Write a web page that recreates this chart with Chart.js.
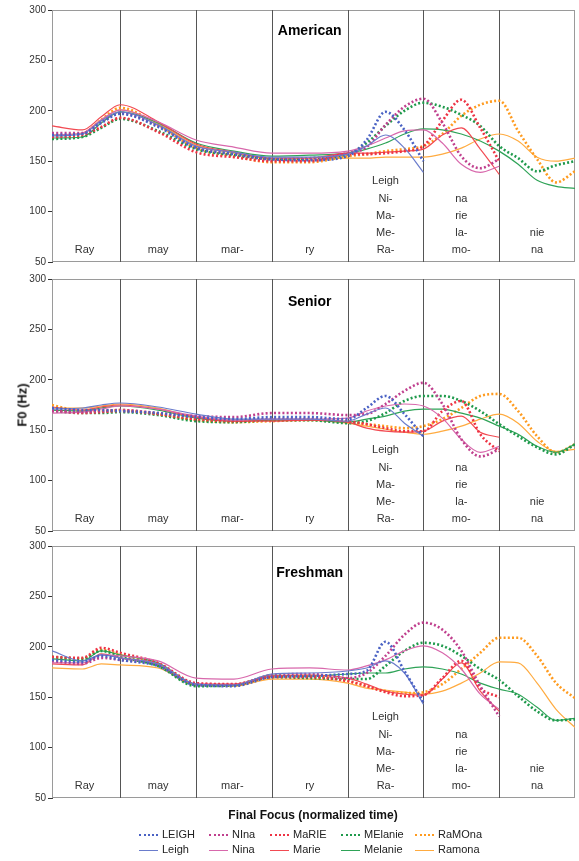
<!DOCTYPE html>
<html>
<head>
<meta charset="utf-8">
<script src="https://cdn.jsdelivr.net/npm/chart.js@4"></script>
<style>
  body { margin: 0; background: #fff; }
  #wrap { position: relative; width: 579px; height: 861px; font-family: "Liberation Sans", Arial, sans-serif; }
  canvas { position: absolute; left: 0; }
  #yTitle { position: absolute; left: 22px; top: 405px; transform: translate(-50%, -50%) rotate(-90deg); font-weight: bold; font-size: 13px; white-space: nowrap; color: #111; }
  #xTitle { position: absolute; left: 313px; top: 815px; transform: translate(-50%, -50%); font-weight: bold; font-size: 12px; white-space: nowrap; color: #111; }
  .lg { position: absolute; font-size: 11px; color: #222; white-space: nowrap; transform: translateY(-50%); }
  .lg i { display: inline-block; width: 19px; vertical-align: middle; margin-right: 4px; }
</style>
</head>
<body>
<div id="wrap">
  <canvas id="american" width="579" height="270" style="top:0px"></canvas>
  <canvas id="senior" width="579" height="270" style="top:269px"></canvas>
  <canvas id="freshman" width="579" height="270" style="top:536px"></canvas>
  <div id="yTitle">F0 (Hz)</div>
  <div id="xTitle">Final Focus (normalized time)</div>
</div>
<script>
// normalized time samples (shared by all series)
const xs = [0.1, 0.5, 0.75, 1, 1.5, 2, 2.5, 3, 3.5, 4, 4.25, 4.5, 4.75, 5, 5.25, 5.5, 5.75, 6, 6.25, 6.5, 6.75, 7];
const boundaries = [1, 2, 3, 4, 5, 6];

const seriesNames = ['LEIGH', 'Leigh', 'NIna', 'Nina', 'MaRIE', 'Marie', 'MElanie', 'Melanie', 'RaMOna', 'Ramona'];
const seriesColors = ['#4a62c4', '#6a7ccc', '#c0408e', '#d868ac', '#ee3344', '#f24a52', '#1f9a4c', '#2ea357', '#ff9b1f', '#ffab40'];
const seriesDotted = [true, false, true, false, true, false, true, false, true, false];

const n = null;
const americanF0 = [
    [176, 177, 188, 197, 184, 163, 157, 152, 151, 155, 171, 199, 181, 150, n, n, n, n, n, n, n, n],
    [175, 177, 190, 199, 186, 165, 159, 154, 154, 157, 165, 176, 163, 139, n, n, n, n, n, n, n, n],
    [178, 178, 189, 198, 185, 164, 157, 152, 152, 158, 164, 186, 204, 212, 188, 155, 143, 152, n, n, n, n],
    [176, 178, 191, 201, 189, 171, 164, 158, 158, 160, 165, 173, 180, 181, 168, 147, 139, 145, n, n, n, n],
    [174, 176, 184, 193, 179, 159, 154, 150, 150, 157, 157, 158, 160, 165, 190, 211, 183, 150, n, n, n, n],
    [185, 181, 194, 206, 189, 167, 159, 153, 153, 158, 158, 159, 160, 162, 176, 183, 162, 137, n, n, n, n],
    [172, 174, 183, 192, 180, 162, 156, 152, 153, 157, 168, 185, 200, 208, 204, 196, 185, 165, 153, 140, 146, 150],
    [173, 174, 188, 199, 188, 168, 160, 155, 156, 158, 162, 168, 177, 182, 181, 177, 170, 160, 147, 131, 125, 123],
    [175, 177, 191, 203, 186, 163, 155, 149, 149, 155, 157, 160, 162, 165, 177, 195, 206, 210, 180, 152, 129, 140],
    [176, 178, 191, 201, 187, 166, 158, 152, 151, 153, 153, 154, 154, 154, 157, 163, 172, 177, 170, 154, 150, 153]
];
const seniorF0 = [
    [172, 170, 170, 169, 167, 163, 161, 163, 163, 161, 172, 184, 166, 144, n, n, n, n, n, n, n, n],
    [171, 172, 175, 177, 173, 166, 161, 161, 161, 159, 166, 172, 157, 144, n, n, n, n, n, n, n, n],
    [169, 168, 169, 170, 167, 164, 163, 167, 167, 165, 166, 176, 189, 197, 176, 141, 124, 131, n, n, n, n],
    [167, 168, 171, 174, 171, 164, 160, 161, 161, 162, 169, 174, 176, 174, 162, 141, 128, 134, n, n, n, n],
    [170, 167, 168, 169, 166, 161, 159, 161, 161, 159, 156, 152, 149, 149, 169, 179, 146, 129, n, n, n, n],
    [173, 170, 173, 175, 171, 163, 159, 159, 160, 158, 152, 149, 148, 149, 159, 164, 148, 143, n, n, n, n],
    [169, 167, 167, 168, 165, 159, 158, 160, 160, 157, 159, 167, 179, 184, 184, 179, 169, 156, 144, 133, 126, 136],
    [170, 169, 172, 174, 170, 162, 159, 160, 160, 158, 161, 164, 169, 171, 171, 167, 162, 154, 146, 134, 128, 136],
    [175, 169, 169, 170, 166, 160, 158, 159, 160, 158, 156, 154, 152, 154, 161, 172, 184, 186, 169, 144, 128, 136],
    [172, 172, 174, 176, 172, 163, 160, 160, 160, 157, 154, 151, 148, 146, 149, 154, 161, 166, 157, 139, 129, 131]
];
const freshmanF0 = [
    [187, 185, 191, 187, 181, 162, 161, 170, 171, 173, 176, 205, 176, 145, n, n, n, n, n, n, n, n],
    [196, 186, 192, 189, 183, 163, 162, 173, 174, 176, 179, 186, 174, 143, n, n, n, n, n, n, n, n],
    [186, 183, 189, 187, 182, 163, 162, 172, 173, 169, 174, 191, 212, 224, 217, 196, 161, 131, n, n, n, n],
    [184, 184, 192, 191, 186, 169, 168, 178, 179, 177, 181, 187, 196, 201, 194, 178, 153, 138, n, n, n, n],
    [190, 189, 199, 194, 184, 164, 163, 170, 170, 166, 161, 155, 151, 152, 169, 186, 159, 150, n, n, n, n],
    [183, 182, 193, 189, 183, 163, 163, 171, 172, 169, 163, 156, 153, 152, 168, 184, 156, 136, n, n, n, n],
    [190, 188, 196, 190, 181, 161, 162, 170, 169, 168, 168, 181, 196, 204, 201, 191, 178, 167, 151, 136, 127, 128],
    [188, 186, 196, 192, 184, 163, 162, 172, 171, 173, 174, 174, 178, 180, 178, 173, 164, 158, 153, 140, 127, 129],
    [189, 188, 197, 192, 182, 162, 162, 170, 171, 166, 161, 156, 154, 155, 163, 178, 194, 209, 209, 191, 164, 149],
    [179, 178, 183, 182, 179, 162, 161, 168, 168, 164, 159, 157, 155, 153, 156, 164, 174, 185, 184, 164, 138, 120]
];

// syllables written in each segment, top to bottom
const syllableX = [0.53, 1.5, 2.48, 3.5, 4.5, 5.5, 6.5];
const syllableText = [
    ['Ray'], ['may'], ['mar-'], ['ry'],
    ['Leigh', 'Ni-', 'Ma-', 'Me-', 'Ra-'],
    ['na', 'rie', 'la-', 'mo-'],
    ['nie', 'na']
];

// Draw frame, dividers, syllables and panel title
const panelDecor = {
    id: 'panelDecor',
    beforeDatasetsDraw(chart, args, opts) {
        const { ctx, chartArea: a, scales: { x, y } } = chart;
        ctx.save();
        ctx.lineWidth = 1;
        ctx.strokeStyle = '#9a9a9a';
        ctx.strokeRect(a.left + 0.5, a.top + 0.5, a.width - 1, a.height - 1);

        ctx.strokeStyle = '#555';
        boundaries.forEach(b => {
            const px = Math.round(x.getPixelForValue(b)) + 0.5;
            ctx.beginPath();
            ctx.moveTo(px, a.top);
            ctx.lineTo(px, a.bottom);
            ctx.stroke();
        });

        ctx.fillStyle = '#333';
        ctx.font = '11px "Liberation Sans", Arial, sans-serif';
        ctx.textAlign = 'center';
        ctx.textBaseline = 'middle';
        syllableText.forEach((rows, i) => {
            rows.forEach((txt, j) => {
                const val = 62 + (rows.length - 1 - j) * 17;
                ctx.fillText(txt, x.getPixelForValue(syllableX[i]), y.getPixelForValue(val));
            });
        });
        ctx.restore();
    },
    afterDatasetsDraw(chart, args, opts) {
        const { ctx, scales: { x, y } } = chart;
        ctx.save();
        ctx.fillStyle = '#000';
        ctx.font = 'bold 14px "Liberation Sans", Arial, sans-serif';
        ctx.textAlign = 'center';
        ctx.textBaseline = 'middle';
        ctx.fillText(opts.title, x.getPixelForValue(3.5), y.getPixelForValue(opts.titleY));
        ctx.restore();
    }
};

function makePanel(id, title, titleY, values) {
    const datasets = values.map((row, i) => ({
        label: seriesNames[i],
        data: row.map((v, k) => ({ x: xs[k], y: v })),
        borderColor: seriesColors[i],
        borderWidth: seriesDotted[i] ? 2.6 : 1.2,
        borderDash: seriesDotted[i] ? [2, 2.2] : [],
        pointRadius: 0,
        cubicInterpolationMode: 'monotone',
        fill: false
    }));

    new Chart(document.getElementById(id), {
        type: 'line',
        data: { datasets },
        plugins: [panelDecor],
        options: {
            responsive: false,
            animation: false,
            devicePixelRatio: 1,
            layout: { padding: { left: 0, right: 4, top: 10, bottom: 7 } },
            plugins: {
                legend: { display: false },
                tooltip: { enabled: false },
                panelDecor: { title, titleY }
            },
            scales: {
                x: { type: 'linear', min: 0.1, max: 7, display: false },
                y: {
                    min: 50,
                    max: 300,
                    afterFit: scale => { scale.width = 52; },
                    ticks: { stepSize: 50, color: '#333', padding: 2, font: { size: 10, family: '"Liberation Sans", Arial, sans-serif' } },
                    grid: { drawOnChartArea: false, tickLength: 4, color: '#333' },
                    border: { color: '#444' }
                }
            }
        }
    });
}

makePanel('american', 'American', 279, americanF0);
makePanel('senior', 'Senior', 277, seniorF0);
makePanel('freshman', 'Freshman', 273, freshmanF0);

// Legend: dotted row on top, solid row below
const legendCols = [139, 209, 270, 341, 415];
const wrap = document.getElementById('wrap');
seriesNames.forEach((name, i) => {
    const col = Math.floor(i / 2);
    const row = i % 2;
    const el = document.createElement('div');
    el.className = 'lg';
    el.style.left = legendCols[col] + 'px';
    el.style.top = (834 + row * 15) + 'px';
    const style = seriesDotted[i] ? 'dotted' : 'solid';
    const w = seriesDotted[i] ? 2 : 1.5;
    el.innerHTML = `<i style="border-top:${w}px ${style} ${seriesColors[i]}"></i>${name}`;
    wrap.appendChild(el);
});
</script>
</body>
</html>
